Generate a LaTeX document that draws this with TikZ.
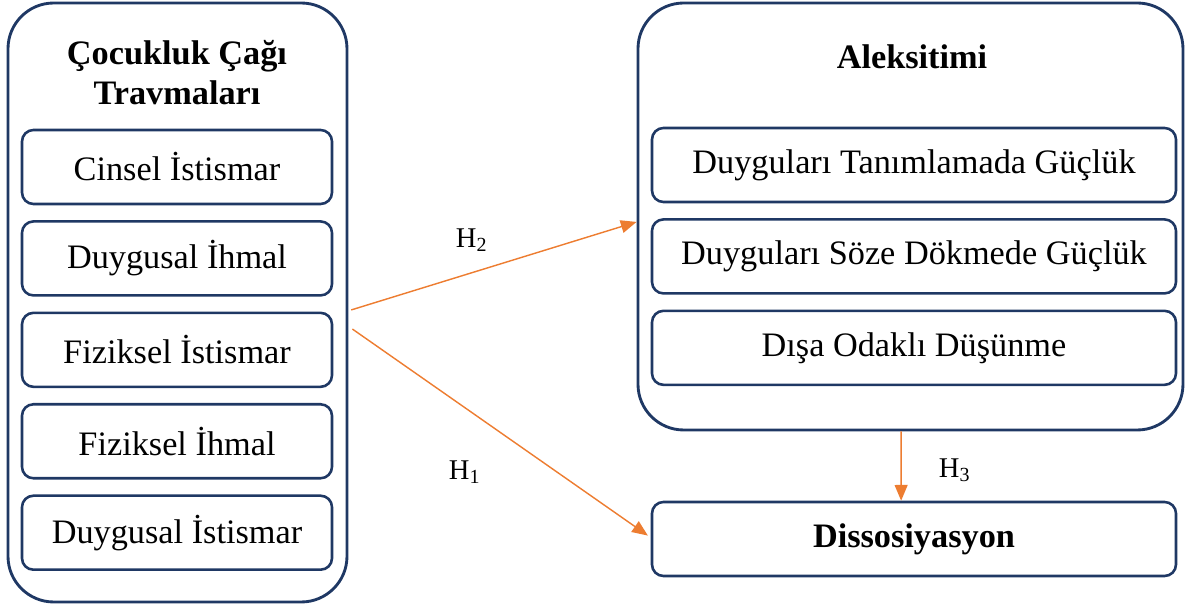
\documentclass[tikz,border=0pt]{standalone}
\usepackage{fontspec}
\setmainfont{Liberation Serif}
\usetikzlibrary{arrows.meta}
\definecolor{navy}{HTML}{1F3864}
\definecolor{orng}{HTML}{ED7D31}
\begin{document}
\begin{tikzpicture}[x=0.35pt, y=-0.35pt, node distance=32pt]
    \tikzstyle{group} = [rectangle, rounded corners=16pt, draw=navy, line width=1pt, inner sep=0pt]
    \tikzstyle{item} = [rectangle, rounded corners=4pt, draw=navy, line width=0.9pt, minimum height=25.9pt, text centered, font=\fontsize{12}{14}\selectfont]
    \tikzstyle{title} = [align=center, font=\fontsize{12}{14}\bfseries\selectfont]
    \tikzstyle{hyp} = [font=\fontsize{10}{12}\selectfont]
    \tikzstyle{arrow} = [draw=orng, line width=0.5pt, -{Triangle[length=5.5pt,width=4.5pt]}, color=orng]

    \useasboundingbox (0,0) rectangle (1186,605);

    % Sol grup
    \node (trauma) [group, minimum width=118.65pt, minimum height=209.65pt] at (177.5,302.5) {};
    \node (traumaT) [title] at (177,73) {Çocukluk Çağı\\Travmaları};
    \node (t1) [item, minimum width=108.5pt] at (177,167) {Cinsel İstismar};
    \node (t2) [item, minimum width=108.5pt, below of=t1] {Duygusal İhmal};
    \node (t3) [item, minimum width=108.5pt, below of=t2] {Fiziksel İstismar};
    \node (t4) [item, minimum width=108.5pt, below of=t3] {Fiziksel İhmal};
    \node (t5) [item, minimum width=108.5pt, below of=t4] {Duygusal İstismar};

    % Sag grup
    \node (aleks) [group, minimum width=190.75pt, minimum height=149.45pt] at (910.5,216.5) {};
    \node (aleksT) [title] at (912,57) {Aleksitimi};
    \node (a1) [item, minimum width=183.4pt] at (914,165) {Duyguları Tanımlamada Güçlük};
    \node (a2) [item, minimum width=183.4pt, below of=a1] {Duyguları Söze Dökmede Güçlük};
    \node (a3) [item, minimum width=183.4pt, below of=a2] {Dışa Odaklı Düşünme};

    \node (diss) [item, minimum width=183.4pt, font=\fontsize{12}{14}\bfseries\selectfont] at (914,539) {Dissosiyasyon};

    % Hipotezler
    \draw [arrow] ([xshift=1pt, yshift=-2.6pt]trauma.east) -- ([yshift=-1.9pt]aleks.west);
    \draw [arrow] ([xshift=1.4pt, yshift=-9.3pt]trauma.east) -- ([xshift=-1pt, yshift=1.2pt]diss.west);
    \draw [arrow] ([xshift=-3.3pt]aleks.south) -- ([xshift=-4.5pt]diss.north);
    \node (h2) [hyp] at (472,240) {H\textsubscript{2}};
    \node (h1) [hyp] at (465,472) {H\textsubscript{1}};
    \node (h3) [hyp] at (955,470) {H\textsubscript{3}};
\end{tikzpicture}
\end{document}
